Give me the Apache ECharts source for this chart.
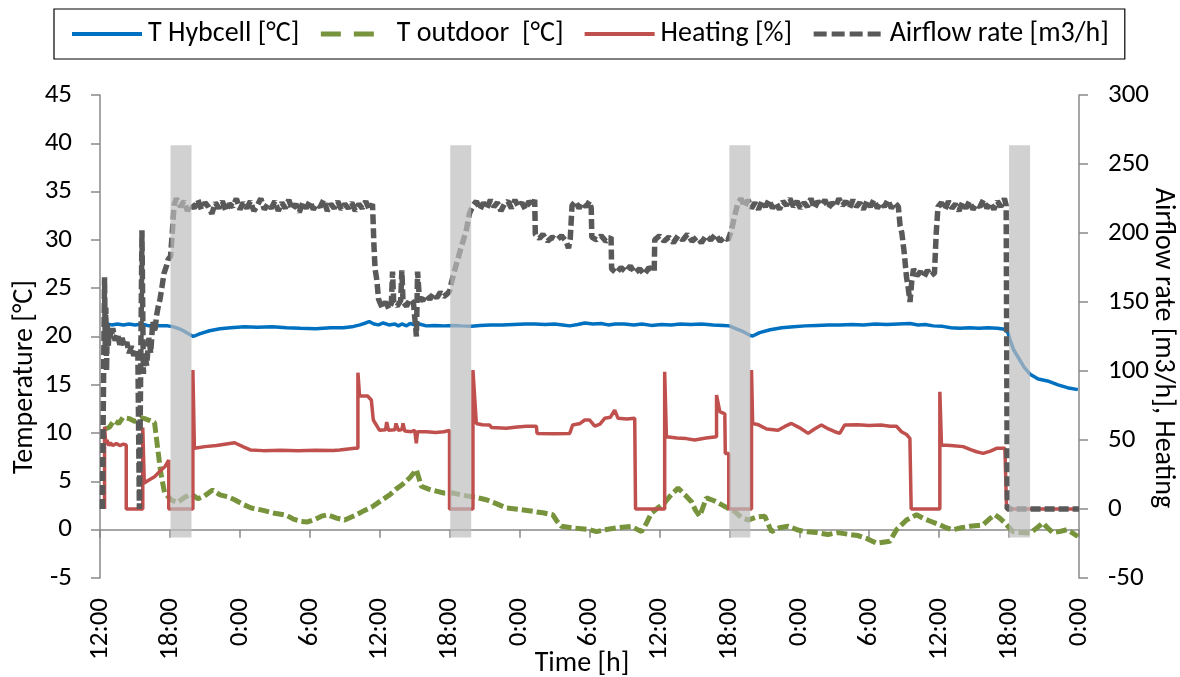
<!DOCTYPE html>
<html>
<head>
<meta charset="utf-8">
<title>Hybcell</title>
<script src="https://cdn.jsdelivr.net/npm/echarts@6.0.0/dist/echarts.min.js"></script>
<style>
    html, body { margin: 0; padding: 0; background: #fff; }
    #chart { width: 1180px; height: 677px; }
</style>
</head>
<body>
<div id="chart"></div>
<script>
// time axis is in hours from the first 12:00
var timeLabels = ['12:00', '18:00', '0:00', '6:00', '12:00', '18:00', '0:00', '6:00',
    '12:00', '18:00', '0:00', '6:00', '12:00', '18:00', '0:00'];

var seriesNames = ['T Hybcell [°C]', 'T outdoor  [°C]', 'Heating [%]', 'Airflow rate [m3/h]'];

// grey bands (hours) and their vertical extent on the temperature axis
var shadePeriods = [[6.05, 7.85], [30.05, 31.85], [54.0, 55.8], [78.0, 79.8]];
var shadeBottom = -0.8;
var shadeTop = 39.8;

// [hour, °C]
var hybcellT = [
    [0.25, 21.1], [0.6, 21.3], [1.0, 21.2], [1.5, 21.3], [2.0, 21.2], [2.5, 21.3], [3.0, 21.2],
    [3.6, 21.3], [4.2, 21.1], [5.0, 21.1], [5.8, 21.1], [6.3, 21.0], [6.8, 20.8], [7.3, 20.5],
    [7.7, 20.2], [8.0, 20.0], [8.6, 20.3], [9.4, 20.6], [10.3, 20.8], [11.2, 20.9], [12.4, 21.0],
    [13.5, 20.95], [14.8, 21.0], [16.0, 20.9], [17.2, 20.85], [18.5, 20.8], [19.8, 20.9], [20.9, 20.9],
    [21.6, 21.0], [22.3, 21.2], [22.8, 21.4], [23.1, 21.55], [23.5, 21.3], [23.9, 21.2], [24.3, 21.4],
    [24.8, 21.2], [25.3, 21.3], [25.6, 21.1], [25.9, 21.3], [26.3, 21.1], [26.6, 21.35], [27.0, 21.2],
    [27.4, 21.3], [28.0, 21.1], [28.7, 21.15], [29.5, 21.1], [30.3, 21.15], [31.0, 21.1], [31.9, 21.05],
    [32.6, 21.15], [33.5, 21.2], [34.5, 21.2], [35.5, 21.25], [36.5, 21.3], [37.3, 21.3], [38.2, 21.25],
    [39.0, 21.3], [39.7, 21.2], [40.3, 21.1], [41.0, 21.25], [41.6, 21.4], [42.3, 21.3], [43.0, 21.35],
    [43.6, 21.2], [44.2, 21.3], [45.0, 21.3], [45.8, 21.2], [46.5, 21.3], [47.3, 21.15], [48.2, 21.25],
    [49.0, 21.2], [49.8, 21.3], [50.7, 21.25], [51.6, 21.3], [52.6, 21.2], [53.5, 21.15], [54.0, 21.1],
    [54.6, 20.8], [55.2, 20.5], [55.8, 20.1], [56.0, 20.05], [56.6, 20.4], [57.5, 20.7], [58.5, 20.9],
    [59.5, 21.0], [60.5, 21.1], [61.5, 21.15], [62.5, 21.2], [63.5, 21.2], [64.5, 21.25], [65.5, 21.2],
    [66.5, 21.3], [67.5, 21.25], [68.5, 21.3], [69.5, 21.35], [70.2, 21.2], [70.8, 21.25], [71.5, 21.1],
    [72.3, 21.05], [73.0, 20.9], [73.8, 20.85], [74.6, 20.9], [75.4, 20.85], [76.2, 20.9], [77.0, 20.85],
    [77.6, 20.75], [77.9, 20.4], [78.1, 19.6], [78.4, 18.6], [78.9, 17.6], [79.3, 16.8], [79.8, 16.1],
    [80.5, 15.6], [81.3, 15.4], [82.2, 15.0], [83.0, 14.7], [83.9, 14.5]
];

// [hour, °C]
var outdoorT = [
    [0.39, 10.4], [0.8, 10.6], [1.2, 11.3], [1.6, 11.0], [1.96, 11.6], [2.5, 11.5], [3.0, 11.2],
    [3.5, 11.6], [3.82, 11.5], [4.3, 11.3], [4.68, 11.1], [4.96, 8.3], [5.2, 6.0], [5.54, 3.8],
    [6.1, 3.1], [6.65, 2.8], [7.2, 3.3], [7.83, 3.7], [8.4, 3.2], [8.97, 3.5], [9.66, 4.1],
    [10.3, 3.6], [11.0, 3.4], [11.55, 3.1], [12.3, 2.6], [12.98, 2.25], [14.0, 2.0], [14.98, 1.7],
    [16.0, 1.5], [16.6, 1.1], [17.27, 0.86], [17.81, 0.8], [18.5, 1.1], [19.0, 1.4], [19.53, 1.55],
    [20.3, 1.2], [20.99, 1.0], [21.99, 1.55], [22.7, 2.0], [23.39, 2.4], [24.1, 3.0], [24.85, 3.6],
    [25.4, 4.2], [25.97, 4.7], [26.6, 5.4], [27.14, 6.2], [27.35, 5.4], [27.57, 4.5], [28.2, 4.2],
    [28.86, 4.0], [29.5, 3.8], [30.26, 3.8], [31.0, 3.6], [31.72, 3.45], [32.4, 3.3], [33.15, 3.1],
    [34.0, 2.7], [34.87, 2.25], [36.0, 2.1], [37.12, 1.9], [38.0, 1.75], [38.84, 1.55], [39.2, 0.9],
    [39.59, 0.35], [40.5, 0.2], [41.3, 0.1], [42.02, 0.0], [42.6, -0.2], [43.3, 0.0], [44.4, 0.2],
    [45.6, 0.35], [46.45, -0.2], [46.9, 0.7], [47.31, 1.7], [47.9, 2.3], [48.45, 2.8], [49.0, 3.6],
    [49.6, 4.3], [50.2, 3.6], [50.75, 2.9], [51.1, 2.0], [51.46, 1.4], [52.03, 3.3], [52.7, 3.0],
    [53.32, 2.6], [53.9, 2.2], [54.46, 1.9], [55.0, 1.3], [55.6, 1.0], [56.3, 1.3], [57.04, 1.4],
    [57.61, -0.2], [58.3, 0.2], [59.04, 0.35], [59.8, 0.0], [60.47, -0.2], [61.5, -0.3], [62.47, -0.5],
    [63.3, -0.3], [64.33, -0.5], [65.0, -0.6], [65.77, -0.9], [66.63, -1.4], [67.2, -1.3], [67.77, -1.2],
    [68.34, 0.0], [69.2, 1.0], [70.06, 1.55], [70.6, 1.2], [71.2, 0.9], [72.06, 0.5], [72.6, 0.2],
    [73.18, 0.0], [73.9, 0.2], [74.64, 0.35], [75.75, 0.5], [76.3, 1.1], [76.78, 1.55], [77.2, 1.2],
    [77.64, 0.7], [78.33, -0.2], [79.0, -0.3], [79.79, -0.35], [80.3, 0.1], [80.9, 0.7], [81.3, 0.2],
    [81.76, -0.3], [82.3, -0.2], [82.96, 0.0], [83.4, -0.3], [83.9, -0.7]
];

// [hour, %]
var heating = [
    [0.39, 0], [0.39, 59.6], [0.5, 47], [0.6, 50], [0.75, 46], [0.9, 48], [1.1, 46], [1.4, 47.5],
    [1.7, 46], [2.0, 47], [2.25, 46.4], [2.25, 0], [3.67, 0], [3.67, 59], [3.8, 18.8], [4.2, 21],
    [4.68, 23.4], [5.25, 28.3], [5.6, 31], [5.9, 35.5], [5.9, 0], [7.97, 0], [7.97, 100.7], [8.1, 44],
    [9.0, 45.2], [10.0, 46], [11.55, 48], [12.3, 45], [12.9, 42.8], [14.0, 42.3], [15.5, 42.6],
    [17.0, 42.3], [18.5, 42.6], [20.0, 42.4], [20.56, 42.8], [21.3, 43.5], [21.85, 44], [22.13, 44],
    [22.13, 98.8], [22.27, 82], [22.96, 81.9], [23.28, 79], [23.45, 64.5], [23.6, 64], [23.99, 57],
    [24.5, 57.5], [24.6, 63], [24.75, 57], [25.3, 57.5], [25.4, 62], [25.6, 57], [25.9, 57.5],
    [26.0, 62], [26.15, 56.5], [26.7, 56], [27.0, 57], [27.14, 47.6], [27.25, 56], [28.0, 56],
    [28.8, 55.5], [29.5, 56], [29.99, 57], [29.99, 0], [32.0, 0], [32.0, 100.7], [32.29, 62],
    [32.8, 61], [33.43, 60.9], [33.6, 59], [34.87, 58.5], [35.8, 59.5], [36.6, 60], [37.44, 60],
    [37.5, 54.8], [39.0, 54.5], [40.3, 54.8], [40.56, 60.9], [41.2, 62], [41.59, 64.5], [42.0, 64.5],
    [42.45, 60], [42.9, 61.5], [43.3, 65.7], [43.8, 66.5], [44.16, 71.7], [44.45, 65.7], [45.2, 65.2],
    [45.88, 65.7], [45.95, 0], [48.45, 0], [48.45, 99.5], [48.6, 52.4], [49.5, 51.5], [50.3, 51],
    [51.03, 50], [52.0, 51.5], [52.9, 52.4], [52.9, 82.6], [53.05, 82.6], [53.18, 70.5], [53.61, 69],
    [53.65, 40.3], [53.95, 40.3], [53.95, 0], [55.9, 0], [55.9, 100.7], [56.0, 62], [56.5, 61],
    [57.2, 58], [58.18, 57], [58.8, 60], [59.33, 62], [60.0, 59], [60.76, 54.8], [61.3, 58],
    [61.9, 60.9], [62.5, 58], [63.05, 56], [63.47, 54.8], [63.9, 60.9], [65.0, 61], [66.0, 60.5],
    [67.0, 60.9], [67.8, 60], [68.34, 60], [68.77, 56], [69.2, 54], [69.49, 51.2], [69.6, 51],
    [69.6, 0], [72.06, 0], [72.06, 85], [72.2, 46.4], [73.0, 46], [74.06, 45.2], [74.7, 43],
    [75.21, 41.5], [75.78, 40.3], [76.4, 42], [76.93, 44], [77.64, 44], [77.79, 44], [77.79, 0],
    [84, 0]
];

// [hour, m3/h]
var airflow = [
    [0.2, 0], [0.36, 0], [0.39, 168], [0.45, 118], [0.5, 146], [0.56, 100], [0.62, 134], [0.7, 117],
    [0.8, 130], [0.95, 124], [1.1, 131], [1.3, 122], [1.5, 127], [1.7, 119], [1.9, 124], [2.1, 117],
    [2.3, 121], [2.5, 113], [2.7, 118], [2.9, 111], [3.1, 116], [3.25, 112], [3.38, 0], [3.52, 0],
    [3.6, 202], [3.72, 98], [3.85, 112], [4.0, 104], [4.2, 124], [4.35, 113], [4.53, 136], [4.7, 128],
    [4.85, 140], [5.0, 147], [5.15, 152], [5.3, 160], [5.5, 171], [5.7, 176], [5.85, 181], [6.05, 183],
    [6.2, 200], [6.35, 220], [6.55, 225],
    [6.9, 219], [7.2, 223], [7.5, 216], [7.8, 221], [8.1, 218], [8.4, 224], [8.7, 217], [9.0, 222],
    [9.3, 219], [9.6, 214], [9.9, 222], [10.2, 218], [10.5, 223], [10.8, 216], [11.1, 221], [11.4, 219],
    [11.7, 225], [12.0, 217], [12.3, 222], [12.6, 218], [12.9, 223], [13.2, 216], [13.5, 220], [13.8, 225],
    [14.1, 217], [14.4, 221], [14.7, 218], [15.0, 223], [15.3, 216], [15.6, 222], [15.9, 218], [16.2, 224],
    [16.5, 217], [16.8, 221], [17.1, 215], [17.4, 222], [17.7, 218], [18.0, 223], [18.3, 217], [18.6, 221],
    [18.9, 219], [19.2, 224], [19.5, 216], [19.8, 221], [20.1, 218], [20.4, 223], [20.7, 217], [21.0, 221],
    [21.3, 218], [21.6, 222], [21.9, 216], [22.2, 221], [22.5, 218], [22.8, 223], [23.1, 217], [23.38, 221],
    [23.45, 205], [23.5, 192], [23.6, 174], [23.75, 166], [23.9, 152], [24.2, 146], [24.5, 150], [24.8, 145],
    [25.0, 149], [25.1, 172], [25.2, 150], [25.5, 147], [25.8, 151], [25.9, 173], [26.0, 150], [26.3, 147],
    [26.6, 152], [26.9, 149], [27.15, 125], [27.25, 172], [27.4, 153], [27.7, 151], [28.0, 155], [28.3, 152],
    [28.6, 156], [28.9, 153], [29.2, 157], [29.5, 154], [29.8, 156], [30.0, 158], [30.15, 164], [30.4, 172],
    [30.6, 178], [31.0, 190], [31.4, 201], [31.7, 214], [32.0, 220],
    [32.3, 223], [32.6, 217], [32.9, 222], [33.2, 218], [33.5, 224], [33.8, 219], [34.1, 222], [34.4, 216],
    [34.7, 221], [35.0, 223], [35.3, 218], [35.6, 224], [35.9, 219], [36.2, 222], [36.5, 217], [36.8, 223],
    [37.1, 220], [37.3, 224],
    [37.35, 199], [37.7, 196], [38.0, 199], [38.4, 194], [38.8, 197], [39.2, 195], [39.6, 198], [40.0, 194],
    [40.2, 189], [40.35, 196], [40.5, 220], [40.8, 223], [41.1, 218], [41.4, 222], [41.7, 219], [42.0, 223],
    [42.15, 218],
    [42.2, 197], [42.6, 195], [43.0, 198], [43.4, 194], [43.85, 197],
    [43.9, 174], [44.3, 171], [44.7, 175], [45.1, 172], [45.5, 176], [45.9, 171], [46.3, 174], [46.7, 170],
    [47.1, 175], [47.55, 172],
    [47.6, 195], [48.0, 198], [48.4, 194], [48.8, 197], [49.2, 193], [49.6, 198], [50.0, 195], [50.4, 199],
    [50.8, 194], [51.2, 197], [51.6, 193], [52.0, 198], [52.4, 195], [52.8, 199], [53.2, 194], [53.6, 197],
    [53.89, 195],
    [54.18, 202], [54.5, 214], [54.75, 222], [55.0, 225], [55.3, 219], [55.6, 224], [55.9, 218], [56.2, 222],
    [56.5, 217], [56.8, 223], [57.1, 219], [57.4, 224], [57.7, 218], [58.0, 222], [58.3, 217], [58.6, 223],
    [58.9, 220], [59.2, 225], [59.5, 219], [59.8, 223], [60.1, 218], [60.4, 222], [60.7, 219], [61.0, 225],
    [61.3, 218], [61.6, 223], [61.9, 220], [62.2, 224], [62.5, 218], [62.8, 222], [63.1, 219], [63.4, 225],
    [63.7, 220], [64.0, 223], [64.3, 218], [64.6, 224], [64.9, 219], [65.2, 222], [65.5, 217], [65.8, 223],
    [66.1, 219], [66.4, 224], [66.7, 218], [67.0, 222], [67.3, 219], [67.6, 224], [67.9, 218], [68.2, 222],
    [68.5, 219],
    [68.65, 205], [68.8, 200], [69.0, 186], [69.2, 168], [69.35, 160], [69.5, 150], [69.65, 165], [69.8, 174],
    [70.1, 169], [70.4, 172], [70.7, 168], [71.0, 173], [71.3, 169], [71.6, 171], [71.75, 200], [71.9, 219],
    [72.2, 222], [72.5, 217], [72.8, 223], [73.1, 218], [73.4, 221], [73.7, 216], [74.0, 222], [74.3, 218],
    [74.6, 223], [74.9, 217], [75.2, 221], [75.5, 219], [75.8, 224], [76.1, 218], [76.4, 222], [76.7, 217],
    [77.0, 223], [77.3, 219], [77.6, 225], [77.75, 220],
    [77.85, 0], [84, 0]
];

var FONT = "Carlito, Calibri, Lato, 'Liberation Sans', sans-serif";
var FONT_SIZE = 28;
var AXIS_GREY = '#898989';

var chart = echarts.init(document.getElementById('chart'));

// grey bands, drawn over the lines
var shadeData = shadePeriods.map(function(p) {
    return [{ xAxis: p[0], yAxis: shadeBottom }, { xAxis: p[1], yAxis: shadeTop }];
});

var option = {
    animation: false,
    backgroundColor: '#fff',
    textStyle: { fontFamily: FONT },
    grid: { left: 100, right: 101, top: 95, bottom: 99, containLabel: false },
    legend: {
        data: [
            { name: seriesNames[0], lineStyle: { width: 4 } },
            { name: seriesNames[1], lineStyle: { width: 5, type: [20, 13, 20, 40] } },
            { name: seriesNames[2], lineStyle: { width: 4 } },
            { name: seriesNames[3], lineStyle: { width: 5, type: [13, 5] } }
        ],
        left: 54,
        top: 9,
        padding: [11, 16],
        itemWidth: 70,
        itemHeight: 14,
        itemGap: 19,
        // hide the symbol drawn in the middle of each legend line
        itemStyle: { opacity: 0, borderWidth: 0 },
        borderColor: '#000',
        borderWidth: 1.2,
        textStyle: { fontFamily: FONT, fontSize: FONT_SIZE, color: '#000', padding: [0, 0, 0, 1] }
    },
    xAxis: [{
        // line through 0 °C with the ticks
        type: 'value', min: 0, max: 84, interval: 6, position: 'bottom',
        axisLine: { show: true, onZero: true, onZeroAxisIndex: 0, lineStyle: { color: AXIS_GREY, width: 1.5 } },
        axisTick: { show: true, inside: false, length: 8, lineStyle: { color: AXIS_GREY, width: 1.5 } },
        axisLabel: { show: false },
        splitLine: { show: false }
    }, {
        // labels at the bottom of the plot
        type: 'value', min: 0, max: 84, interval: 6, position: 'bottom',
        axisLine: { show: false, onZero: false },
        axisTick: { show: false },
        axisLabel: {
            show: true, rotate: 90, margin: 20, color: '#000', fontFamily: FONT, fontSize: 27,
            formatter: function(v) {
                return timeLabels[Math.round(v / 6)];
            }
        },
        splitLine: { show: false }
    }],
    yAxis: [{
        type: 'value', min: -5, max: 45, interval: 5, position: 'left',
        axisLine: { show: true, onZero: false, lineStyle: { color: AXIS_GREY, width: 1.5 } },
        axisTick: { show: true, inside: false, length: 9, lineStyle: { color: AXIS_GREY, width: 1.5 } },
        axisLabel: { margin: 28, color: '#000', fontFamily: FONT, fontSize: 27 },
        splitLine: { show: false }
    }, {
        type: 'value', min: -50, max: 300, interval: 50, position: 'right',
        axisLine: { show: true, onZero: false, lineStyle: { color: AXIS_GREY, width: 1.5 } },
        axisTick: { show: true, inside: false, length: 9, lineStyle: { color: AXIS_GREY, width: 1.5 } },
        axisLabel: { margin: 29, color: '#000', fontFamily: FONT, fontSize: 27 },
        splitLine: { show: false }
    }],
    graphic: [{
        type: 'text', x: 25, y: 377, rotation: Math.PI / 2, silent: true,
        style: { text: 'Temperature [°C]', font: FONT_SIZE + 'px ' + FONT, fill: '#000',
            align: 'center', verticalAlign: 'middle', textAlign: 'center', textVerticalAlign: 'middle' }
    }, {
        type: 'text', x: 1163, y: 348, rotation: -Math.PI / 2, silent: true,
        style: { text: 'Airflow rate [m3/h], Heating', font: FONT_SIZE + 'px ' + FONT, fill: '#000',
            align: 'center', verticalAlign: 'middle', textAlign: 'center', textVerticalAlign: 'middle' }
    }, {
        type: 'text', x: 582, y: 664, silent: true,
        style: { text: 'Time [h]', font: FONT_SIZE + 'px ' + FONT, fill: '#000',
            align: 'center', verticalAlign: 'middle', textAlign: 'center', textVerticalAlign: 'middle' }
    }],
    series: [{
        name: seriesNames[0], type: 'line', yAxisIndex: 0, data: hybcellT,
        symbol: 'none', color: '#0070C0',
        lineStyle: { color: '#0070C0', width: 3.5 }
    }, {
        name: seriesNames[1], type: 'line', yAxisIndex: 0, data: outdoorT,
        symbol: 'none', color: '#77933C',
        lineStyle: { color: '#77933C', width: 5, type: [11, 4] }
    }, {
        name: seriesNames[2], type: 'line', yAxisIndex: 1, data: heating,
        symbol: 'none', color: '#C0504D',
        lineStyle: { color: '#C0504D', width: 3.5 }
    }, {
        name: seriesNames[3], type: 'line', yAxisIndex: 1, data: airflow,
        symbol: 'none', color: '#595959',
        lineStyle: { color: '#595959', width: 5.5, type: [10, 4] }
    }, {
        name: 'shade', type: 'line', yAxisIndex: 0, data: [], symbol: 'none', z: 10,
        markArea: {
            z: 10, silent: true,
            itemStyle: { color: 'rgba(190,190,190,0.7)' },
            data: shadeData
        }
    }]
};

chart.setOption(option);
</script>
</body>
</html>
